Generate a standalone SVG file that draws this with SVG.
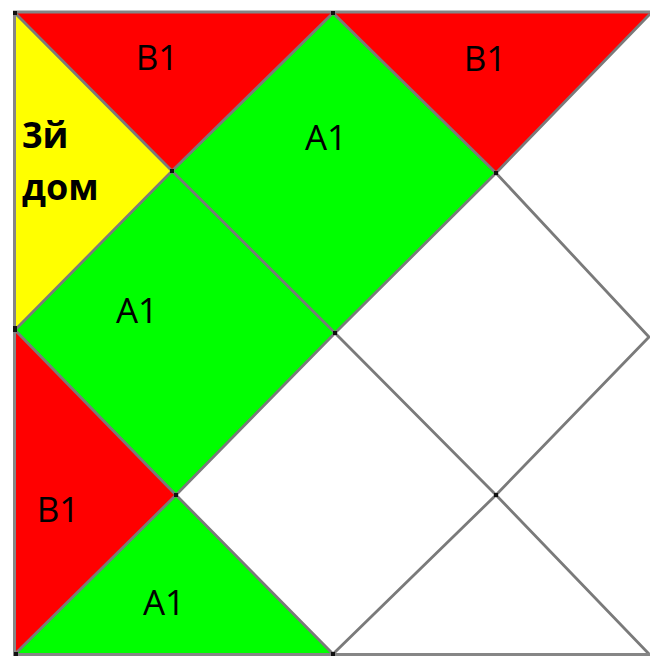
<svg xmlns="http://www.w3.org/2000/svg" width="650" height="657" viewBox="0 0 650 657">
  <style>
    .lbl { font-family: "Open Sans", "Liberation Sans", sans-serif; font-size: 35px; fill: #000; text-anchor: middle; }
    .bold { font-family: "Open Sans", "Liberation Sans", sans-serif; font-size: 36px; font-weight: bold; fill: #000; }
    .red { fill: #ff0000; }
    .green { fill: #00ff00; }
    .yellow { fill: #ffff00; }
    .ln { stroke: #7a7a7a; stroke-width: 2.8; fill: none; stroke-linejoin: miter; }
    .frame { stroke: #868686; stroke-width: 3; fill: none; }
    .dot { fill: #111; }
  </style>
  <rect x="0" y="0" width="650" height="657" fill="#ffffff"/>

  <g id="b1-top-left">
    <polygon class="red" points="15,13 333,13 172,171"/>
    <text class="lbl" x="157" y="70">B1</text>
  </g>
  <g id="house-3">
    <polygon class="yellow" points="15,13 172,171 15,330"/>
    <text class="bold" x="22" y="148">3й</text>
    <text class="bold" x="22" y="200">дом</text>
  </g>
  <g id="a1-top">
    <polygon class="green" points="333,13 172,171 335,333 496,173"/>
    <text class="lbl" x="326" y="150">A1</text>
  </g>
  <g id="b1-top-right">
    <polygon class="red" points="333,13 650,13 650,14 496,173"/>
    <text class="lbl" x="485" y="71">B1</text>
  </g>
  <g id="a1-left">
    <polygon class="green" points="172,171 15,330 176,495 335,333"/>
    <text class="lbl" x="137" y="323">A1</text>
  </g>
  <g id="b1-bottom-left">
    <polygon class="red" points="15,330 176,495 15,654"/>
    <text class="lbl" x="58" y="522">B1</text>
  </g>
  <g id="a1-bottom">
    <polygon class="green" points="176,495 15,654 333,654"/>
    <text class="lbl" x="164" y="615">A1</text>
  </g>

  <g id="connectors">
    <polyline class="ln" points="15,13 172,171 335,333 496,495 650,655"/>
    <polyline class="ln" points="650,14 496,173 335,333 176,495 15,654"/>
    <polygon class="ln" points="333,13 172,171 15,330 176,495 333,654 496,495 649,337 496,173"/>
    <line class="frame" x1="13" y1="12" x2="650" y2="12"/>
    <line class="frame" x1="14.5" y1="11" x2="14.5" y2="656"/>
    <line class="frame" x1="13" y1="654.5" x2="650" y2="654.5"/>
  </g>

  <g id="vertices">
    <rect class="dot" x="13" y="11" width="4" height="4"/>
    <rect class="dot" x="331" y="11" width="4" height="4"/>
    <rect class="dot" x="170" y="169" width="4" height="4"/>
    <rect class="dot" x="494" y="171" width="4" height="4"/>
    <rect class="dot" x="333" y="331" width="4" height="4"/>
    <rect class="dot" x="13" y="326" width="4" height="6"/>
    <rect class="dot" x="174" y="493" width="4" height="4"/>
    <rect class="dot" x="494" y="493" width="4" height="4"/>
    <rect class="dot" x="14" y="652" width="4" height="4"/>
    <rect class="dot" x="331" y="652" width="4" height="4"/>
  </g>
</svg>
